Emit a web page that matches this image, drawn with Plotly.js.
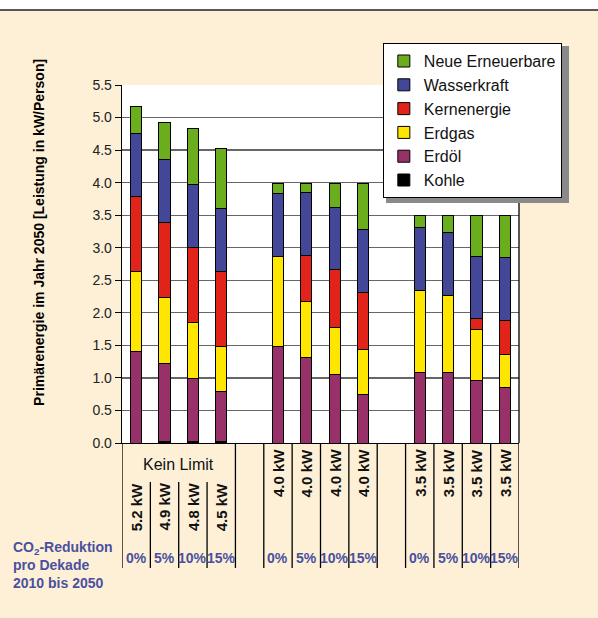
<!DOCTYPE html>
<html>
<head>
<meta charset="utf-8">
<script src="https://cdn.plot.ly/plotly-3.0.1.min.js"></script>
<style>html,body{margin:0;padding:0;background:#fdf0d6;}#chart{width:598px;height:618px;}</style>
</head>
<body>
<div id="chart"></div>
<script>
// Category slots (gap slots are spacers between groups)
const categories = ["A1","A2","A3","A4","gap1","B1","B2","B3","B4","gap2","C1","C2","C3","C4"];
const capacityLabels = ["5.2 kW","4.9 kW","4.8 kW","4.5 kW","","4.0 kW","4.0 kW","4.0 kW","4.0 kW","","3.5 kW","3.5 kW","3.5 kW","3.5 kW"];
const reductionLabels = ["0%","5%","10%","15%","","0%","5%","10%","15%","","0%","5%","10%","15%"];
const groupLabel = "Kein Limit";

// Series values (kW/Person), null for spacer slots
const kohle       = [0.00, 0.03, 0.03, 0.03, null, 0.00, 0.00, 0.00, 0.00, null, 0.00, 0.00, 0.00, 0.00];
const erdoel      = [1.40, 1.19, 0.96, 0.76, null, 1.48, 1.31, 1.06, 0.75, null, 1.09, 1.08, 0.96, 0.86];
const erdgas      = [1.23, 1.01, 0.86, 0.69, null, 1.39, 0.86, 0.71, 0.69, null, 1.25, 1.18, 0.79, 0.50];
const kernenergie = [1.16, 1.15, 1.16, 1.16, null, 0.00, 0.71, 0.89, 0.87, null, 0.00, 0.00, 0.16, 0.52];
const wasserkraft = [0.97, 0.98, 0.96, 0.97, null, 0.96, 0.97, 0.96, 0.97, null, 0.97, 0.97, 0.96, 0.97];
const neue        = [0.41, 0.56, 0.86, 0.92, null, 0.16, 0.14, 0.37, 0.71, null, 0.18, 0.26, 0.62, 0.64];

const seriesNames  = ["Kohle","Erdöl","Erdgas","Kernenergie","Wasserkraft","Neue Erneuerbare"];
const seriesValues = [kohle, erdoel, erdgas, kernenergie, wasserkraft, neue];
const seriesColors = ["#000000","#98306a","#ffe600","#e2231a","#434797","#6aae1e"];

const FONT = "'Liberation Sans', Arial, sans-serif";
const BLUE = "#4a50a0";

const traces = seriesNames.map((n,i)=>({
  type:"bar", name:n, x:categories, y:seriesValues[i],
  marker:{color:seriesColors[i], line:{color:"#000", width:1}},
  hoverinfo:"name+y"
}));

// Table lines below the axis
const shapes = [];
const nCat = categories.length;
for (let k = 0; k <= nCat; k++) {
  const xb = k - 0.5;
  const inner = (k >= 1 && k <= 3);
  shapes.push({type:"line", xref:"x", yref:"paper", x0:xb, x1:xb,
    y0: inner ? -0.109 : 0, y1:-0.349, line:{color:"#000", width:1.3}});
}
// white strip at top and separator line
shapes.push({type:"rect", xref:"paper", yref:"paper", x0:-0.31, x1:1.2, y0:1.2095, y1:1.24,
  fillcolor:"#ffffff", line:{width:0}, layer:"below"});
shapes.push({type:"line", xref:"paper", yref:"paper", x0:-0.31, x1:1.2, y0:1.2095, y1:1.2095,
  line:{color:"#222", width:1.5}});
// right border of plot area
shapes.push({type:"line", xref:"paper", yref:"paper", x0:1, x1:1, y0:0, y1:1, line:{color:"#000", width:1.3}});
// legend drop shadow (offset box behind the legend)
shapes.push({type:"rect", xref:"paper", yref:"paper", x0:0.665, x1:1.126, y0:0.6704, y1:1.1089,
  fillcolor:"#8a8a8a", line:{width:0}});

const annotations = [];
categories.forEach((c,i)=>{
  if (!capacityLabels[i]) return;
  const grp1 = i < 4;
  annotations.push({xref:"x", yref:"paper", x:i, y: grp1 ? -0.179 : -0.084, xanchor:"center", yanchor:"middle",
    text:"<b>"+capacityLabels[i]+"</b>",
    textangle:-90, showarrow:false, font:{family:FONT, size:15, color:"#111"}});
  annotations.push({xref:"x", yref:"paper", x:i, y:-0.321, xanchor:"center", yanchor:"middle",
    text:"<b>"+reductionLabels[i]+"</b>",
    showarrow:false, font:{family:FONT, size:14, color:BLUE}});
});
annotations.push({xref:"x", yref:"paper", x:1.5, y:-0.061, xanchor:"center", yanchor:"middle",
  text:groupLabel, showarrow:false, font:{family:FONT, size:16, color:"#111"}});
annotations.push({xref:"paper", yref:"paper", x:-0.209, y:0.587, xanchor:"center", yanchor:"middle",
  text:"<b>Primärenergie im Jahr 2050 [Leistung in kW/Person]</b>",
  textangle:-90, showarrow:false, font:{family:FONT, size:14, color:"#000"}});
annotations.push({xref:"paper", yref:"paper", x:-0.28, y:-0.262, xanchor:"left", yanchor:"top", align:"left",
  text:"<b>CO<sub>2</sub>-Reduktion<br>pro Dekade<br>2010 bis 2050</b>", showarrow:false,
  font:{family:FONT, size:14, color:BLUE}});

const layout = {
  width:598, height:618,
  margin:{l:122, r:79, t:85, b:175},
  paper_bgcolor:"#fdf0d6", plot_bgcolor:"#ffffff",
  barmode:"stack", bargap:0.6,
  showlegend:true,
  legend:{x:0.657, y:1.117, xanchor:"left", yanchor:"top", traceorder:"reversed",
    bgcolor:"#ffffff", bordercolor:"#000", borderwidth:1,
    font:{family:FONT, size:16, color:"#111"}, itemwidth:30, tracegroupgap:0},
  xaxis:{type:"category", categoryarray:categories, categoryorder:"array",
    showticklabels:false, ticks:"", showgrid:false, zeroline:false,
    showline:true, linecolor:"#000", linewidth:1.3, range:[-0.5, 13.5], fixedrange:true},
  yaxis:{range:[0,5.5], dtick:0.5, tickformat:".1f", showgrid:true, gridcolor:"#666", gridwidth:1.2,
    showline:true, linecolor:"#000", linewidth:1.3, ticks:"outside", ticklen:6, tickcolor:"#000",
    zeroline:false, tickfont:{family:FONT, size:14, color:"#222"}, fixedrange:true},
  font:{family:FONT},
  shapes:shapes, annotations:annotations
};

Plotly.newPlot("chart", traces, layout, {displayModeBar:false, staticPlot:true});
</script>
</body>
</html>
